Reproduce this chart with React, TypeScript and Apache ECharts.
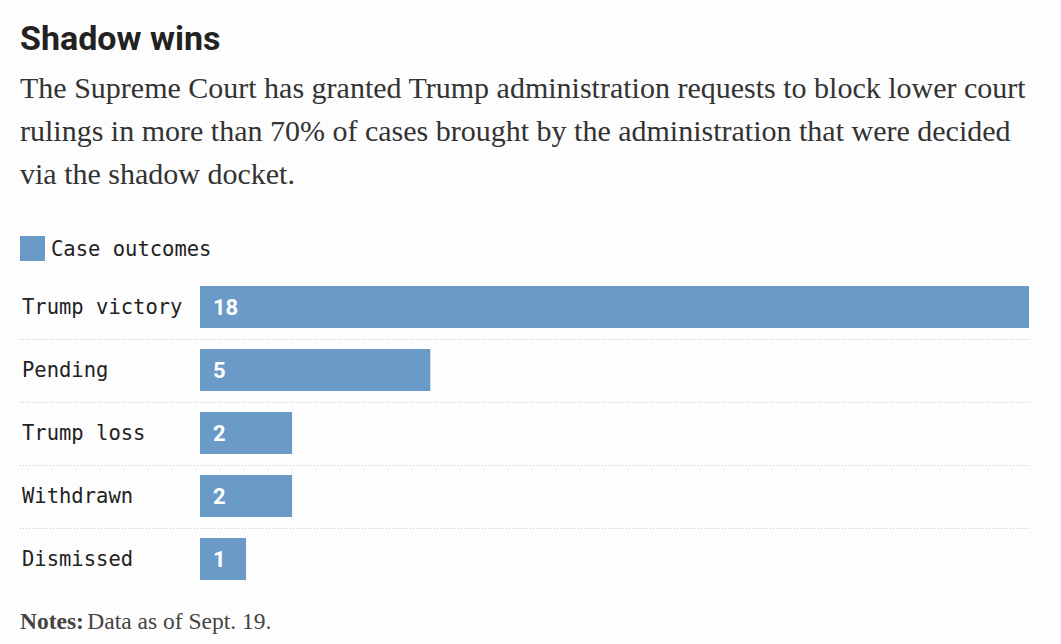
import React, { useEffect, useRef } from "react";
import * as echarts from "echarts";

const categories = ["Trump victory", "Pending", "Trump loss", "Withdrawn", "Dismissed"];
const values = [18, 5, 2, 2, 1];
const seriesName = "Case outcomes";
const titleText = "Shadow wins";
const subtitleLines = [
  "The Supreme Court has granted Trump administration requests to block lower court",
  "rulings in more than 70% of cases brought by the administration that were decided",
  "via the shadow docket.",
];
const notesLabel = "Notes:";
const notesText = "Data as of Sept. 19.";

const BAR = "#6a9bc8";
const MONO = "'DejaVu Sans Mono', 'Liberation Mono', monospace";
const SERIF = "'Liberation Serif', 'DejaVu Serif', serif";

export default function App() {
  const ref = useRef<HTMLDivElement>(null);
  useEffect(() => {
    if (!ref.current) return;
    const chart = echarts.init(ref.current, undefined, { renderer: "svg" });
    const baseGraphics: any[] = [
      {
        type: "text",
        left: 20,
        top: 21,
        style: {
          text: titleText,
          font: "bold 34px Roboto, 'Liberation Sans', sans-serif",
          fill: "#222",
        },
      },
      {
        type: "text",
        left: 20,
        top: 66,
        style: {
          text: subtitleLines.join("\n"),
          font: `30px ${SERIF}`,
          lineHeight: 43,
          fill: "#333",
        },
      },
      {
        type: "text",
        left: 20,
        top: 609,
        style: {
          text: `{b|${notesLabel}} {r|${notesText}}`,
          rich: {
            b: { fontFamily: SERIF, fontWeight: "bold", fontSize: 23.5, fill: "#444" },
            r: { fontFamily: SERIF, fontSize: 23.5, fill: "#444" },
          },
        },
      },
    ];
    chart.setOption({
      animation: false,
      backgroundColor: "#fdfdfd",
      legend: {
        left: 20,
        top: 236,
        padding: 0,
        itemWidth: 25,
        itemHeight: 25,
        icon: "rect",
        textStyle: { fontFamily: MONO, fontSize: 20.5, color: "#222", padding: [0, 0, 0, 1] },
        data: [seriesName],
      },
      grid: { left: 200, right: 32, top: 275.5, bottom: 53.5 },
      xAxis: {
        type: "value",
        min: 0,
        max: 18,
        show: false,
      },
      yAxis: {
        type: "category",
        inverse: true,
        data: categories,
        axisLine: { show: false },
        axisTick: { show: false },
        splitLine: { show: false },
        axisLabel: {
          align: "left",
          margin: 178,
          fontFamily: MONO,
          fontSize: 20.5,
          color: "#222",
        },
      },
      series: [
        {
          name: seriesName,
          type: "bar",
          data: values,
          barWidth: 42,
          itemStyle: { color: BAR },
          label: {
            show: true,
            position: "insideLeft",
            distance: 13,
            color: "#fff",
            fontFamily: "Roboto, 'Liberation Sans', sans-serif",
            fontWeight: "bold",
            fontSize: 22,
          },
        },
      ],
      graphic: baseGraphics,
    });
    const lines: any[] = [];
    const xRight = chart.convertToPixel({ xAxisIndex: 0 }, 18) as number;
    for (let i = 1; i < categories.length; i++) {
      const y0 = chart.convertToPixel({ yAxisIndex: 0 }, categories[i - 1]) as number;
      const y1 = chart.convertToPixel({ yAxisIndex: 0 }, categories[i]) as number;
      const y = Math.round((y0 + y1) / 2) + 0.5;
      lines.push({
        type: "line",
        shape: { x1: 20, y1: y, x2: xRight, y2: y },
        style: { stroke: "#c8c8c8", lineWidth: 1, lineDash: [1, 2] },
      });
    }
    chart.setOption({ graphic: [...baseGraphics, ...lines] });
    return () => chart.dispose();
  }, []);
  return (
    <div
      ref={ref}
      style={{ position: "fixed", left: 0, top: 0, width: 1061, height: 644 }}
    />
  );
}
